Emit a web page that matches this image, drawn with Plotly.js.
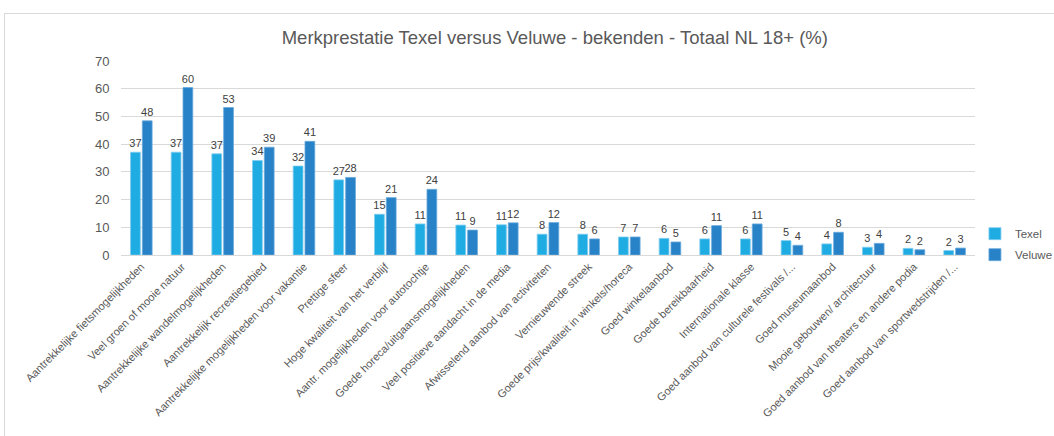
<!DOCTYPE html>
<html>
<head>
<meta charset="utf-8">
<script src="https://cdn.plot.ly/plotly-3.0.1.min.js"></script>
<style>
  html, body { margin: 0; padding: 0; background: #fff; overflow: hidden; }
  #wrap { position: relative; width: 1054px; height: 436px; }
  #frame { position: absolute; left: 4px; top: 13px; width: 1100px; height: 500px;
           border: 1.5px solid #d9d9d9; box-sizing: border-box; pointer-events: none; }
  #chart { position: absolute; left: 0; top: 0; width: 1054px; height: 436px; }
</style>
</head>
<body>
<div id="wrap">
  <div id="chart"></div>
  <div id="frame"></div>
</div>
<script>
const categories = [
  "Aantrekkelijke fietsmogelijkheden",
  "Veel groen of mooie natuur",
  "Aantrekkelijke wandelmogelijkheden",
  "Aantrekkelijk recreatiegebied",
  "Aantrekkelijke mogelijkheden voor vakantie",
  "Prettige sfeer",
  "Hoge kwaliteit van het verblijf",
  "Aantr. mogelijkheden voor autotochtje",
  "Goede horeca/uitgaansmogelijkheden",
  "Veel positieve aandacht in de media",
  "Afwisselend aanbod van activiteiten",
  "Vernieuwende streek",
  "Goede prijs/kwaliteit in winkels/horeca",
  "Goed winkelaanbod",
  "Goede bereikbaarheid",
  "Internationale klasse",
  "Goed aanbod van culturele festivals /...",
  "Goed museumaanbod",
  "Mooie gebouwen/ architectuur",
  "Goed aanbod van theaters en andere podia",
  "Goed aanbod van sportwedstrijden /..."
];
const texel  = [37.1, 37.1, 36.5, 34.1, 32.1, 27.1, 14.7, 11.2, 10.8, 10.9, 7.5, 7.5, 6.5, 6.0, 5.8, 5.8, 5.2, 4.0, 2.8, 2.4, 1.6];
const veluwe = [48.4, 60.4, 53.2, 38.9, 41.0, 28.0, 20.7, 23.7, 9.0, 11.6, 11.7, 5.8, 6.5, 4.7, 10.6, 11.2, 3.5, 8.2, 4.2, 1.9, 2.5];
const texelLabels  = [37, 37, 37, 34, 32, 27, 15, 11, 11, 11, 8, 8, 7, 6, 6, 6, 5, 4, 3, 2, 2];
const veluweLabels = [48, 60, 53, 39, 41, 28, 21, 24, 9, 12, 12, 6, 7, 5, 11, 11, 4, 8, 4, 2, 3];
const yTicks = [0, 10, 20, 30, 40, 50, 60, 70];

const fontFam = "Liberation Sans, Arial, sans-serif";

const traces = [
  {
    type: "bar", name: "Texel", x: categories, y: texel,
    text: texelLabels.map(String), textposition: "outside", cliponaxis: false,
    constraintext: "none",
    textfont: { family: fontFam, size: 11, color: "#404040" },
    marker: { color: "#1FACE3", line: { color: "#7dcdf0", width: 0.8 } },
    legendgroup: "a", hoverinfo: "x+y"
  },
  {
    type: "bar", name: "Veluwe", x: categories, y: veluwe,
    text: veluweLabels.map(String), textposition: "outside", cliponaxis: false,
    constraintext: "none",
    textfont: { family: fontFam, size: 11, color: "#404040" },
    marker: { color: "#2782C7", line: { color: "#6aa9dc", width: 0.8 } },
    legendgroup: "b", hoverinfo: "x+y"
  }
];

const layout = {
  width: 1054, height: 436,
  margin: { l: 121, r: 66, t: 61, b: 181, pad: 0 },
  paper_bgcolor: "rgba(0,0,0,0)", plot_bgcolor: "#fff",
  font: { family: fontFam, color: "#595959" },
  title: {
    text: "Merkprestatie Texel versus Veluwe - bekenden - Totaal NL 18+ (%)",
    font: { family: fontFam, size: 18.5, color: "#595959" },
    x: 0.508, xanchor: "center", y: 0.915, yanchor: "middle", xref: "paper"
  },
  barmode: "group", bargap: 0.42, bargroupgap: 0.17,
  xaxis: {
    type: "category", tickangle: -45,
    tickfont: { family: fontFam, size: 11, color: "#595959" },
    showgrid: false, showline: true, linecolor: "#d9d9d9", linewidth: 1,
    ticks: "", automargin: false
  },
  yaxis: {
    range: [0, 70], tickvals: yTicks, ticktext: yTicks.map(String),
    tickfont: { family: fontFam, size: 13, color: "#595959" },
    showgrid: true, gridcolor: "#d9d9d9", gridwidth: 1,
    zeroline: false, showline: false,
    ticks: "outside", ticklen: 8, tickcolor: "rgba(0,0,0,0)", automargin: false
  },
  legend: {
    xref: "container", yref: "container",
    x: 0.925, xanchor: "left", y: 0.44, yanchor: "middle",
    font: { family: fontFam, size: 11.5, color: "#595959" },
    traceorder: "grouped", tracegroupgap: 2,
    itemwidth: 30, bgcolor: "rgba(0,0,0,0)"
  },
  showlegend: true
};

Plotly.newPlot("chart", traces, layout, { displayModeBar: false, staticPlot: true });
</script>
</body>
</html>
